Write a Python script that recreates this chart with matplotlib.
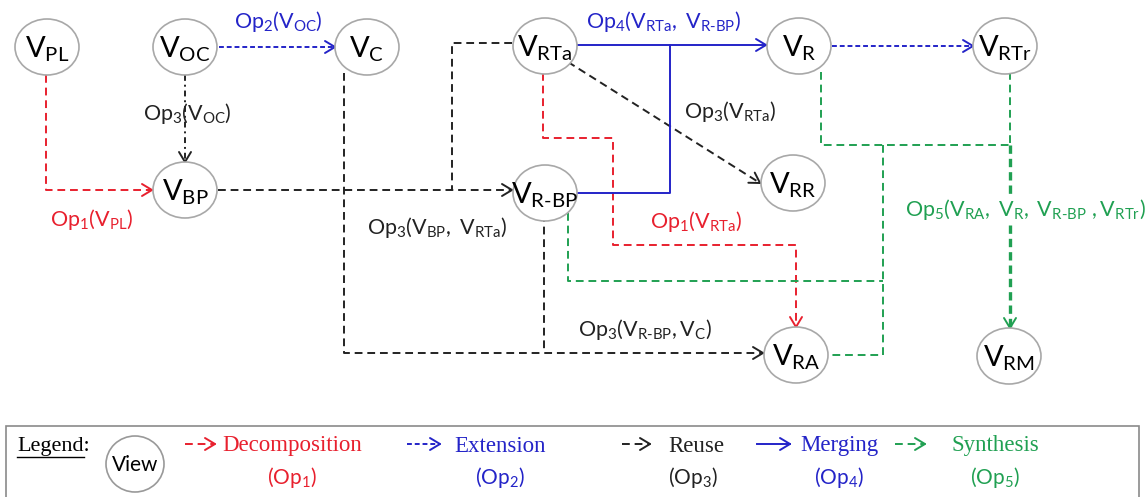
import numpy as np
import matplotlib
matplotlib.use("Agg")
import matplotlib.pyplot as plt
from matplotlib.patches import Ellipse, Rectangle

plt.rcParams['font.family'] = ['Lato', 'DejaVu Sans']
plt.rcParams['mathtext.fontset'] = 'custom'
plt.rcParams['mathtext.rm'] = 'Lato'
plt.rcParams['mathtext.it'] = 'Lato:italic'
plt.rcParams['mathtext.bf'] = 'Lato:bold'

# colours
RED = '#e8202e'
BLUE = '#2424c8'
BLACK = '#222222'
GREEN = '#20a052'
HY = '\u2010'

# =============================================================================
# nodes (views)
# =============================================================================
node_names = ['PL', 'OC', 'C', 'BP', 'RTa', 'R' + HY + 'BP', 'R', 'RTr', 'RR', 'RA', 'RM']
node_x = [47, 185, 367, 185, 545, 545, 799, 1005, 793, 796, 1009]
node_y = [47, 47, 47, 190, 46, 193, 46, 46, 183, 355, 356]
node_w, node_h = 64, 56

# =============================================================================
# edges: waypoints, colour, style, arrow at end
# =============================================================================
edges = [
    # decomposition
    ([(46, 75), (46, 190), (152, 190)], RED, (4, 2.5), 1.4, True),
    ([(543, 73), (543, 138), (613, 138), (613, 245), (796, 245), (796, 327)], RED, (4, 2.5), 1.4, True),
    # extension
    ([(219, 47), (335, 47)], BLUE, (2.5, 1.5), 1.4, True),
    ([(832, 46), (973, 46)], BLUE, (2.5, 1.5), 1.4, True),
    # reuse
    ([(185, 75), (185, 162)], BLACK, (3, 2, 1, 2), 1.4, True),
    ([(218, 190), (512, 190)], BLACK, (4, 2.5), 1.4, True),
    ([(512, 43), (452, 43), (452, 190)], BLACK, (4, 2.5), 1.4, False),
    ([(344, 73), (344, 353), (763, 353)], BLACK, (4, 2.5), 1.4, True),
    ([(544, 214), (544, 353)], BLACK, (4, 2.5), 1.4, False),
    ([(568, 62), (760, 183)], BLACK, (4, 2.5), 1.4, True),
    # merging
    ([(577, 45), (766, 45)], BLUE, None, 1.4, True),
    ([(577, 193), (670, 193), (670, 45)], BLUE, None, 1.4, False),
    # synthesis
    ([(821, 72), (821, 145), (1010, 145)], GREEN, (4, 2.5), 1.4, False),
    ([(1010, 72), (1010, 145)], GREEN, (4, 2.5), 1.4, False),
    ([(1010, 145), (1010, 328)], GREEN, (2.5, 1.5), 2.4, True),
    ([(883, 145), (883, 355), (829, 355)], GREEN, (4, 2.5), 1.4, False),
    ([(568, 213), (568, 281), (883, 281)], GREEN, (4, 2.5), 1.4, False),
]

# edge labels (text, x, y, colour, white background)
edge_labels = [
    (r'$\mathrm{Op_2(V_{OC})}$', 278, 22, BLUE, False),
    (r'$\mathrm{Op_3(V_{OC})}$', 187, 114, BLACK, False),
    (r'$\mathrm{Op_1(V_{PL})}$', 92, 219, RED, False),
    (r'$\mathrm{Op_3(V_{BP},\ V_{RTa})}$', 437, 228, BLACK, False),
    (r'$\mathrm{Op_4(V_{RTa},\ V_{R' + HY + 'BP})}$', 664, 22, BLUE, False),
    (r'$\mathrm{Op_3(V_{RTa})}$', 730, 111, BLACK, False),
    (r'$\mathrm{Op_1(V_{RTa})}$', 696, 222, RED, False),
    (r'$\mathrm{Op_3(V_{R' + HY + 'BP},V_C)}$', 645, 330, BLACK, False),
    (r'$\mathrm{Op_5(V_{RA},\ V_R,\ V_{R' + HY + 'BP}\ ,V_{RTr})}$', 1025, 209, GREEN, True),
]

# legend entries
legend_words = ['Decomposition', 'Extension', 'Reuse', 'Merging', 'Synthesis']
legend_ops = ['1', '2', '3', '4', '5']
legend_colors = [RED, BLUE, BLACK, BLUE, GREEN]
legend_styles = [(4, 2.5), (2.5, 1.5), (4, 2.5), None, (4, 2.5)]
legend_arrow_x = [(185, 215), (407, 440), (622, 650), (757, 790), (895, 925)]
legend_text_x = [292, 500, 668, 839, 995]
legend_ha = ['center', 'center', 'left', 'center', 'center']


def arrow_head(ax, p0, p1, color, lw):
    d = np.array(p1, float) - np.array(p0, float)
    d /= np.hypot(*d)
    n = np.array([-d[1], d[0]])
    tip = np.array(p1, float)
    L, Wd = 10, 6
    for s in (1, -1):
        b = tip - L * d + s * Wd * n
        ax.plot([b[0], tip[0]], [b[1], tip[1]], color=color, lw=lw, solid_capstyle='round')


def draw_path(ax, pts, color, dash, lw, arrow):
    xs = [p[0] for p in pts]
    ys = [p[1] for p in pts]
    line, = ax.plot(xs, ys, color=color, lw=lw)
    if dash is not None:
        line.set_dashes(dash)
    if arrow:
        arrow_head(ax, pts[-2], pts[-1], color, 1.4)


fig = plt.figure(figsize=(11.45, 4.97), dpi=100)
ax = fig.add_axes([0, 0, 1, 1])
ax.set_xlim(0, 1145)
ax.set_ylim(497, 0)
ax.axis('off')

for pts, c, dash, lw, arr in edges:
    draw_path(ax, pts, c, dash, lw, arr)

for name, x, y in zip(node_names, node_x, node_y):
    ax.add_patch(Ellipse((x, y), node_w, node_h, facecolor='white',
                         edgecolor='#a8a8a8', lw=1.2, zorder=3))
    ax.text(x, y + 2, r'$\mathrm{V_{' + name + '}}$', fontsize=21,
            ha='center', va='center', color='black', zorder=4)

for txt, x, y, c, bg in edge_labels:
    t = ax.text(x, y, txt, fontsize=15.5, ha='center', va='center', color=c, zorder=5)
    if bg:
        t.set_bbox(dict(facecolor='white', edgecolor='none', pad=1))

# legend box
ax.add_patch(Rectangle((6, 426), 1133, 80, facecolor='white', edgecolor='#8a8a8a', lw=1.2))
ax.text(17, 446, 'Legend:', family='Liberation Serif', fontsize=16, ha='left', va='center')
ax.plot([17, 84], [457, 457], color='black', lw=1)
ax.add_patch(Ellipse((135, 464), 58, 56, facecolor='white', edgecolor='#999999', lw=1.2))
ax.text(135, 465, 'View', fontsize=15, ha='center', va='center')

for word, op, c, dash, (xa, xb), xt, ha in zip(legend_words, legend_ops, legend_colors,
                                             legend_styles, legend_arrow_x,
                                             legend_text_x, legend_ha):
    draw_path(ax, [(xa, 444), (xb, 444)], c, dash, 1.4, True)
    ax.text(xt, 446, word, family='Liberation Serif', fontsize=16.5, color=c,
            ha=ha, va='center')
    ax.text(xt, 478, r'$\mathrm{(Op_' + op + ')}$', fontsize=15, color=c,
            ha=ha, va='center')

fig.savefig('out.png', dpi=100)
